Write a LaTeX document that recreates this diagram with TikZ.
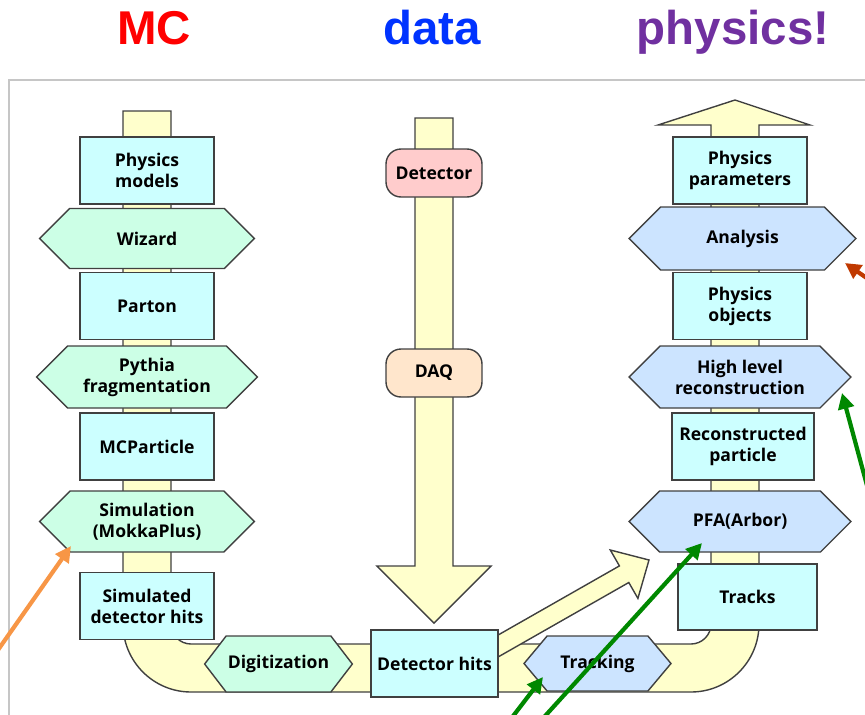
\documentclass[tikz,border=0pt]{standalone}
\usepackage{fontspec}
\setmainfont{Open Sans}
\newfontfamily\titlefont{Liberation Sans}
\usepackage{tikz}
\usetikzlibrary{shapes,arrows.meta,positioning,calc}

\definecolor{pipeyellow}{RGB}{255,255,204}
\definecolor{boxcyan}{RGB}{204,255,255}
\definecolor{mcgreen}{RGB}{204,255,230}
\definecolor{recoblue}{RGB}{204,228,255}
\definecolor{detpink}{RGB}{255,204,204}
\definecolor{daqpeach}{RGB}{255,230,204}
\definecolor{edgegray}{RGB}{64,64,64}
\definecolor{mcred}{RGB}{255,0,0}
\definecolor{datablue}{RGB}{0,51,255}
\definecolor{physpurple}{RGB}{112,48,160}
\definecolor{noteorange}{RGB}{247,150,70}
\definecolor{notebrown}{RGB}{192,57,0}
\definecolor{notegreen}{RGB}{0,136,0}

\begin{document}
\begin{tikzpicture}[x=0.02cm, y=-0.02cm,
  every node/.style={font=\fontsize{10}{12}\selectfont\bfseries},
  outl/.style={draw=edgegray, line width=0.8pt},
  pipe/.style={outl, fill=pipeyellow},
  databox/.style={outl, fill=boxcyan, minimum width=2.68cm, minimum height=1.34cm, align=center, inner sep=1pt},
  hexbox/.style={outl, signal, signal to=west and east, signal pointer angle=90, minimum width=4.3cm, minimum height=1.2cm, align=center, inner sep=1pt},
  mchex/.style={hexbox, fill=mcgreen},
  recohex/.style={hexbox, fill=recoblue},
  pill/.style={outl, rounded corners=0.3cm, minimum width=1.92cm, minimum height=0.96cm},
  note/.style={line width=2.4pt, -{Triangle[length=9pt,width=9pt]}},
  title/.style={font=\titlefont\fontsize{27}{30}\selectfont\bfseries, anchor=base}
]
\clip (0,0) rectangle (865,714);
\draw[gray!45, line width=0.8pt] (9,80) rectangle (900,760);

% headings
\node[title, text=mcred] (mc) at (154,44) {MC};
\node[title, text=datablue] (data) at (432,44) {data};
\node[title, text=physpurple] (phys) at (733,44) {physics!};

% the big U-shaped pipe
\draw[pipe] (123,111) -- (123,624) .. controls (123,661.5) and (153.5,692) .. (191,692)
  -- (691,692) .. controls (728.5,692) and (759,661.5) .. (759,624)
  -- (759,125) -- (810,125) -- (735,100) -- (658,125) -- (711,125)
  -- (711,624) .. controls (711,635) and (702,644) .. (691,644)
  -- (191,644) .. controls (180,644) and (171,635) .. (171,624)
  -- (171,111) -- cycle;
\draw[pipe] (415,118) -- (415,566) -- (377,566) -- (434,623) -- (491,566) -- (453,566) -- (453,118) -- cycle;
\draw[pipe] (465.3,653.7) -- (619.4,565.9) -- (610.3,550) -- (649,560) -- (637.9,598.4) -- (628.8,582.5) -- (474.7,670.3) -- cycle;

% MC chain
\node[databox] (models) at (147,170.5) {Physics\\models};
\node[mchex] (wizard) at (147,238.5) {Wizard};
\node[databox] (parton) at (147,306) {Parton};
\node[mchex, minimum width=4.42cm, minimum height=1.24cm] (pythia) at (147,377) {Pythia\\fragmentation};
\node[databox] (mcparticle) at (147,446.5) {MCParticle};
\node[mchex, minimum height=1.22cm] (sim) at (147,521.5) {Simulation\\(MokkaPlus)};
\node[databox] (simhits) at (147,606) {Simulated\\detector hits};

% data chain
\node[pill, fill=detpink] (detector) at (434,173) {Detector};
\node[pill, fill=daqpeach] (daq) at (434,373) {DAQ};
\node[databox, minimum width=2.54cm] (dethits) at (434.5,663.5) {Detector hits};
\node[mchex, minimum width=2.94cm, minimum height=1.12cm, signal pointer angle=105] (digi) at (278.5,664) {Digitization};
\node[recohex, minimum width=2.94cm, minimum height=1.1cm, signal pointer angle=100] (tracking) at (597.5,663.5) {Tracking};

% reconstruction chain
\node[databox] (params) at (740,170.5) {Physics\\parameters};
\node[recohex, minimum width=4.54cm, minimum height=1.26cm] (analysis) at (742.5,238.5) {Analysis};
\node[databox] (objects) at (740,306) {Physics\\objects};
\node[recohex, minimum width=4.44cm, minimum height=1.24cm] (hlr) at (740,377) {High level\\reconstruction};
\node[databox, minimum width=2.84cm] (recopart) at (743,446.5) {Reconstructed\\particle};
\node[recohex, minimum width=4.44cm, minimum height=1.22cm] (pfa) at (740,521.5) {PFA(Arbor)};
\node[databox, minimum width=2.78cm, minimum height=1.32cm] (tracks) at (747.5,597) {Tracks};

% pointers
\coordinate (fromSim) at (-14,667);
\coordinate (fromAna) at (884,290);
\coordinate (fromHlr) at (872,504);
\coordinate (fromPfa) at (536,726);
\coordinate (fromTrk) at (507,724);
\draw[note, noteorange] (fromSim) -- ($(sim.center)+(-76,24.5)$);
\draw[note, notebrown] (fromAna) -- ($(analysis.center)+(102.5,24.5)$);
\draw[note, notegreen] (fromHlr) -- ($(hlr.center)+(102,16)$);
\draw[note, notegreen] (fromPfa) -- ($(pfa.center)+(-38,21.5)$);
\draw[note, notegreen] (fromTrk) -- ($(tracking.center)+(-54.5,13.5)$);
\end{tikzpicture}
\end{document}
